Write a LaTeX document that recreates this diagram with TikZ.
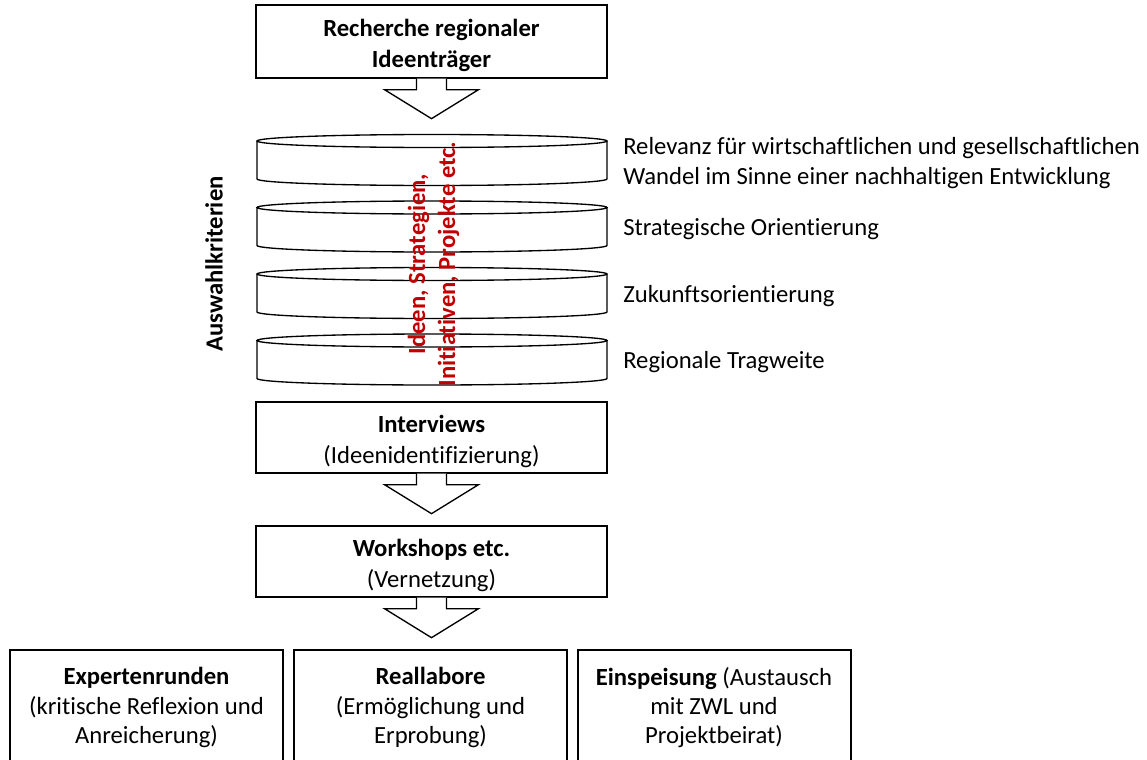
\documentclass[tikz,border=0pt]{standalone}
\usepackage{fontspec}
\setmainfont{Carlito}[Ligatures=NoCommon]
\usetikzlibrary{positioning}
\definecolor{ideared}{HTML}{C00000}

\begin{document}
\begin{tikzpicture}[x=0.75pt,y=0.75pt,yscale=-1,xscale=1]
  \tikzstyle{stepbox} = [draw, line width=1pt, minimum width=263.25pt, inner sep=0pt]
  \tikzstyle{steptext} = [align=center, inner sep=0pt, yshift=-3pt, font=\fontsize{18.5}{23}\selectfont]
  \tikzstyle{outbox} = [draw, line width=1.5pt, minimum width=204.75pt, minimum height=86.25pt, align=center, inner sep=0pt, font=\fontsize{18.5}{22}\selectfont]
  \tikzstyle{blockarrow} = [line width=1pt, fill=white]
  \tikzstyle{disk} = [line width=1pt]
  \tikzstyle{crit} = [anchor=west, align=left, inner sep=0pt, font=\fontsize{18.5}{22.5}\selectfont]
  %set picture size to 1147 x 760
  \clip (0,0) rectangle (1147,760);
  %Draw the main steps
  \node [stepbox, minimum height=54.75pt, label={[steptext]center:{\textbf{Recherche regionaler}\\\textbf{Ideenträger}}}] (rech) at (431.5,41.5) {};
  \node [stepbox, minimum height=53.25pt, label={[steptext]center:{\textbf{Interviews}\\(Ideenidentifizierung)}}] (interv) at (431.5,437.5) {};
  \node [stepbox, minimum height=53.25pt, label={[steptext]center:{\textbf{Workshops etc.}\\(Vernetzung)}}] (works) at (431.5,561.5) {};
  %Draw the block arrows
  \draw [blockarrow] (rech.south) ++(-15,0) -- ++(0,11) -- ++(-32,0) -- ++(47,29) -- ++(47,-29) -- ++(-32,0) -- ++(0,-11);
  \draw [blockarrow] (interv.south) ++(-15,0) -- ++(0,11) -- ++(-32,0) -- ++(47,29) -- ++(47,-29) -- ++(-32,0) -- ++(0,-11);
  \draw [blockarrow] (works.south) ++(-15,0) -- ++(0,11) -- ++(-32,0) -- ++(47,29) -- ++(47,-29) -- ++(-32,0) -- ++(0,-11);
  %Draw the disks
  \foreach \t [count=\i] in {141,207.5,274,340.5} {
    \draw [disk] (257,\t) -- (257,\t+38) arc [start angle=180, end angle=0, x radius=175, y radius=6.5] -- (607,\t);
    \draw [disk] (432,\t) ellipse [x radius=175, y radius=6.5];
    \coordinate (d\i) at (607,\t+19);
  }
  % Label the disks
  \node [crit] (relevanz) at (623,163) {Relevanz für wirtschaftlichen und gesellschaftlichen\\Wandel im Sinne einer nachhaltigen Entwicklung};
  \node [crit] (strat) at (623,229) {Strategische Orientierung};
  \node [crit] (zukunft) at (623,296) {Zukunftsorientierung};
  \node [crit] (region) at (623,362.5) {Regionale Tragweite};
  \node [rotate=90, inner sep=0pt, font=\fontsize{18.5}{22.5}\selectfont\bfseries] (auswahl) at (214,264) {Auswahlkriterien};
  \node [rotate=90, inner sep=0pt, align=center, text=ideared, font=\fontsize{18.5}{22.5}\selectfont\bfseries] (ideen) at (433.5,264) {Ideen, Strategien,\\Initiativen, Projekte etc.};
  %Draw the outcome boxes
  \node [outbox] (experten) at (146.5,707.5) {\textbf{Expertenrunden}\\(kritische Reflexion und\\Anreicherung)};
  \node [outbox] (reallabore) at (430.5,707.5) {\textbf{Reallabore}\\(Ermöglichung und\\Erprobung)};
  \node [outbox] (einspeisung) at (714,707.5) {\textbf{Einspeisung} (Austausch\\mit ZWL und\\Projektbeirat)};
\end{tikzpicture}
\end{document}
